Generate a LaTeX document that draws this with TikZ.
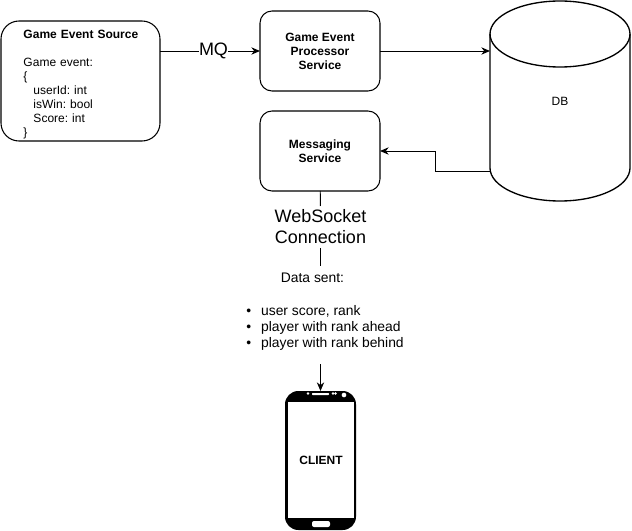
\documentclass[tikz,border=0pt]{standalone}
\usepackage{fontspec}
\setmainfont{Liberation Sans}
\usetikzlibrary{arrows.meta}
\tikzset{
  every node/.style={inner sep=0pt,outer sep=0pt,font=\fontsize{9}{10.5}\selectfont\frenchspacing},
  service/.style={draw,line width=.8pt,rounded corners=9pt,minimum width=90pt,minimum height=60pt,align=center,font=\fontsize{9}{10.5}\selectfont\bfseries},
  biglabel/.style={fill=white,align=center,font=\fontsize{13.5}{15.75}\selectfont},
  datatext/.style={align=left,font=\fontsize{10.4}{12}\selectfont},
  arrow/.style={-{Stealth[length=6.5pt,width=5.5pt]},line width=.7pt},
  wire/.style={line width=.7pt}
}
\begin{document}
\begin{tikzpicture}[x=.75pt,y=-.75pt]
  \useasboundingbox (0,0) rectangle (632,531);
  \node[service,rounded corners=13.5pt,minimum width=119.25pt,minimum height=90pt,text width=85.5pt,align=left,font=\fontsize{9}{10.5}\selectfont\frenchspacing] (source) at (80.5,81)
    {\rule{0pt}{11.1pt}\makebox[85.5pt][l]{\textbf{Game Event Source}}\\[10.5pt]Game event:\\\{\\\hspace*{7.5pt}userId: int\\\hspace*{7.5pt}isWin: bool\\\hspace*{7.5pt}Score: int\\\}};
  \node[service] (proc) at (320,51) {Game Event\\Processor\\Service};
  \node[service] (msg) at (320,151) {Messaging\\Service};
  \node[minimum width=105pt,minimum height=150pt] (db) at (560,101) {DB};
  \draw[line width=1pt] (490,34) arc (180:360:70 and 33) -- (630,168) arc (0:180:70 and 33) -- cycle;
  \draw[line width=1pt] (490,34) arc (180:0:70 and 33);
  \node[biglabel] (mq) at (213.5,51) {MQ};
  \node[biglabel,minimum height=31.5pt] (socket) at (320.5,227) {WebSocket\\Connection};
  \node[datatext,minimum height=18pt] (datahead) at (312.5,278) {Data sent:};
  \node[datatext,minimum height=54pt] (datalist) at (325,328)
    {\textbullet\hspace*{7.5pt}user score, rank\\\textbullet\hspace*{7.5pt}player with rank ahead\\\textbullet\hspace*{7.5pt}player with rank behind};
  \node[fill=black,rounded corners=10pt,minimum width=53.25pt,minimum height=104.25pt] (phone) at (320.5,460.5) {};
  \node[fill=white,minimum width=49.5pt,minimum height=87pt] (client) at (321,460) {\bfseries CLIENT};
  \node[fill=white,rounded corners=1.5pt,minimum width=13.5pt,minimum height=4.5pt] (homekey) at (321,524) {};
  \node[fill=white,rounded corners=.5pt,minimum width=12.75pt,minimum height=1.5pt] (speaker) at (320.5,394) {};
  \node[fill=white,circle,minimum size=2pt] (sensor) at (308,393.5) {};
  \node[fill=white,circle,minimum size=2pt] (dota) at (333,393.5) {};
  \node[fill=white,circle,minimum size=2pt] (dotb) at (335.5,393.5) {};
  \node[fill=white,circle,minimum size=3.5pt] (camera) at (344,395) {};
  \coordinate (dbout) at (490,171);
  \draw[wire] (source.east |- proc.west) -- (mq);
  \draw[arrow] (mq) -- (proc);
  \draw[arrow] (proc.east) -- (proc.east -| db.west);
  \draw[arrow] (dbout) -- (435,171) -- (435,151) -- (msg.east);
  \draw[wire] (msg) -- (socket);
  \draw[wire] (socket) -- (datahead.north -| socket);
  \draw[arrow] (datalist.south -| phone) -- (phone);
\end{tikzpicture}
\end{document}
